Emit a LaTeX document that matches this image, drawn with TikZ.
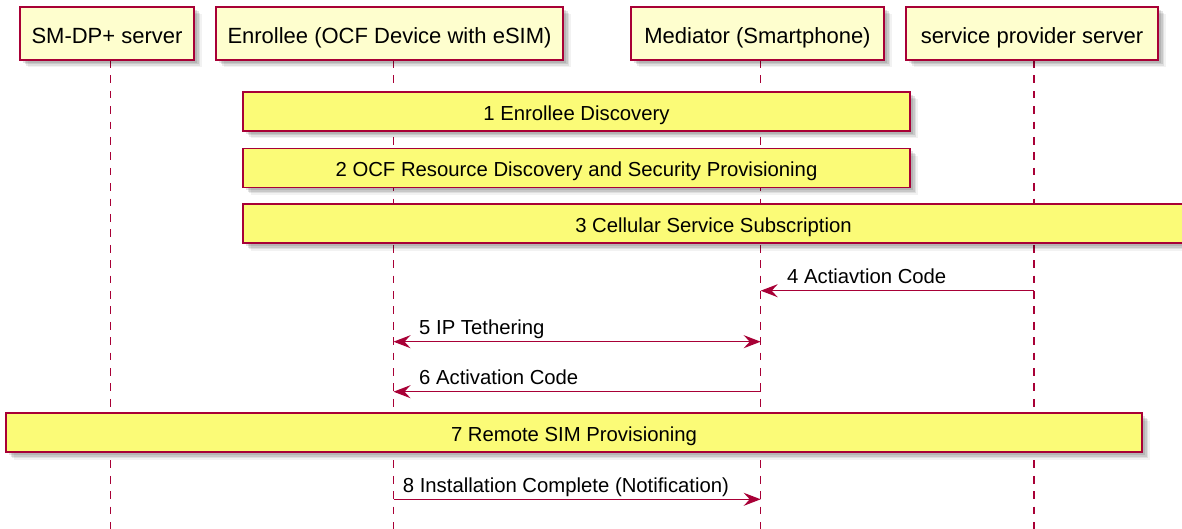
\documentclass[tikz,border=0pt]{standalone}
\usepackage{fontspec}
\setmainfont{Liberation Sans}
\usetikzlibrary{arrows.meta}
\definecolor{pline}{HTML}{A80036}
\definecolor{pfill}{HTML}{FEFECE}
\definecolor{nfill}{HTML}{FBFB77}
\tikzset{
  softshadow/.style={
    preaction={fill=black,opacity=0.10,transform canvas={xshift=3pt,yshift=-3pt}},
    preaction={fill=black,opacity=0.10,transform canvas={xshift=4.5pt,yshift=-4.5pt}},
    preaction={fill=black,opacity=0.08,transform canvas={xshift=6pt,yshift=-6pt}},
    preaction={fill=black,opacity=0.05,transform canvas={xshift=7.5pt,yshift=-7.5pt}}},
  partbox/.style={softshadow, draw=pline, fill=pfill, line width=2pt, inner sep=0pt,
    font=\fontsize{22}{26}\selectfont, text height=19.6pt, text depth=0pt, minimum height=53pt},
  notebox/.style={softshadow, draw=pline, fill=nfill, line width=1.5pt, inner sep=0pt,
    font=\fontsize{20.3}{24}\selectfont, text height=18pt, text depth=0pt, minimum height=39pt},
  lifeline/.style={pline, line width=1.5pt, dash pattern=on 7.7pt off 7.7pt},
  tip/.tip={Stealth[length=17pt,width=13pt,inset=6pt]},
  msg/.style={pline, line width=1.5pt, -tip},
  msgboth/.style={pline, line width=1.5pt, tip-tip},
  lbl/.style={anchor=base west, inner sep=0pt, font=\fontsize{20.3}{24}\selectfont},
}
\begin{document}
\begin{tikzpicture}[x=1pt,y=-1pt]
\useasboundingbox (0,0) rectangle (1182,529);
% lifeline coordinates
\coordinate (Lsm) at (110.7,60);
\coordinate (Len) at (393.5,60);
\coordinate (Lme) at (760.7,60);
\coordinate (Lsp) at (1034,60);
\coordinate (bot) at (0,530);
\draw[lifeline] (Lsm) -- (Lsm |- bot);
\draw[lifeline] (Len) -- (Len |- bot);
\draw[lifeline] (Lme) -- (Lme |- bot);
\draw[lifeline] (Lsp) -- (Lsp |- bot);
% participants
\node[partbox, minimum width=174pt] (smdp) at (107,33.5) {SM-DP+ server};
\node[partbox, minimum width=347pt] (enr) at (389.5,33.5) {Enrollee (OCF Device with eSIM)};
\node[partbox, minimum width=253pt] (med) at (757.5,33.5) {Mediator (Smartphone)};
\node[partbox, minimum width=252pt] (sps) at (1032,33.5) {service provider server};
% notes
\node[notebox, minimum width=667pt] (n1) at (576.5,111.5) {1 Enrollee Discovery};
\node[notebox, minimum width=667pt] (n2) at (576.5,168) {2 OCF Resource Discovery and Security Provisioning};
\node[notebox, minimum width=941pt] (n3) at (713.5,223.5) {3 Cellular Service Subscription};
% messages
\coordinate (r4) at (0,290.7);
\coordinate (r5) at (0,341.7);
\coordinate (r6) at (0,391.7);
\coordinate (r8) at (0,499.3);
\draw[msg] (Lsp |- r4) -- (Lme |- r4);
\node[lbl] (t4) at (787,283.5) {4 Actiavtion Code};
\draw[msgboth] (Len |- r5) -- (Lme |- r5);
\node[lbl] (t5) at (419,334.7) {5 IP Tethering};
\draw[msg] (Lme |- r6) -- (Len |- r6);
\node[lbl] (t6) at (419,384.7) {6 Activation Code};
\node[notebox, minimum width=1136pt] (n7) at (574,432.5) {7 Remote SIM Provisioning};
\draw[msg] (Len |- r8) -- (Lme |- r8);
\node[lbl] (t8) at (402.7,492) {8 Installation Complete (Notification)};
\end{tikzpicture}
\end{document}
